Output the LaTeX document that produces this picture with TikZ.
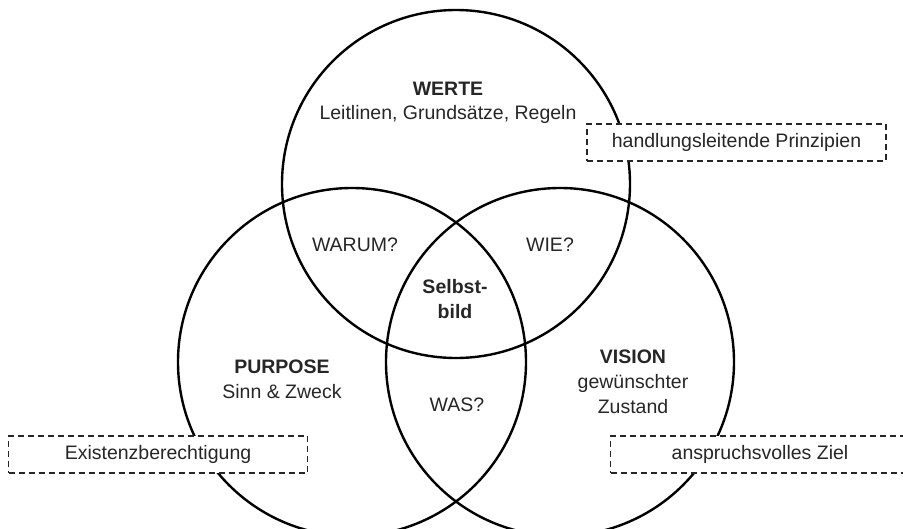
\documentclass[tikz,border=0pt]{standalone}
\usepackage{fontspec}
\setmainfont{Liberation Sans}
\usepackage{xcolor}

\definecolor{textgray}{HTML}{262626}

\tikzset{
  ring/.style={line width=2.4pt},
  label/.style={text=textgray, font=\fontsize{19.5}{25}\selectfont, align=center},
  title/.style={label, font=\fontsize{19.5}{25}\selectfont\bfseries},
  notebox/.style={label, draw=textgray, dash pattern=on 6pt off 4pt, line width=1.6pt,
    fill=white, minimum width=299pt, minimum height=37pt}
}

\begin{document}
\begin{tikzpicture}[x=1pt, y=-1pt]
    \useasboundingbox (0,0) rectangle (903,528);

    % the three circles
    \draw[ring] (456,184) circle (174);
    \draw[ring] (352,362) circle (174);
    \draw[ring] (560,362) circle (174);

    % main fields
    \node[title] (werte) at (448,89) {WERTE};
    \node[label] (werteSub) at (448,114) {Leitlinen, Grundsätze, Regeln};

    \node[title] (purpose) at (282,367) {PURPOSE};
    \node[label] (purposeSub) at (282,392) {Sinn \& Zweck};

    \node[title] (vision) at (633,357) {VISION};
    \node[label] (visionSub) at (633,394.5) {gewünschter\\Zustand};

    % overlaps
    \node[label] (warum) at (355,245) {WARUM?};
    \node[label] (wie) at (550,245) {WIE?};
    \node[label] (was) at (457,405) {WAS?};
    \node[title] (selbst) at (455,299.5) {Selbst-\\bild};

    % dashed notes
    \node[notebox] (prinzipien) at (736.5,142.5) {handlungsleitende Prinzipien};
    \node[notebox] (existenz) at (158,454.5) {Existenzberechtigung};
    \node[notebox] (ziel) at (760,454.5) {anspruchsvolles Ziel};
\end{tikzpicture}
\end{document}
